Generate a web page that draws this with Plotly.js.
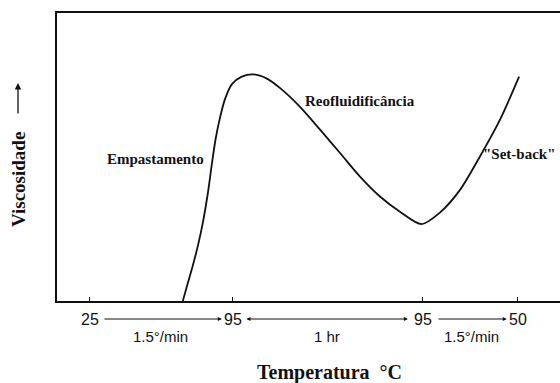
<!DOCTYPE html>
<html>
<head>
<meta charset="utf-8">
<script src="https://cdn.plot.ly/plotly-3.0.1.min.js"></script>
<style>html,body{margin:0;padding:0;background:#fff;}#chart{width:560px;height:383px;}</style>
</head>
<body>
<div id="chart"></div>
<script>
// time axis (min) of the RVA-type profile, viscosity in arbitrary units
const timeMin = [29.3, 30.9, 32.5, 34.1, 35.6, 37.2, 38.5, 39.7, 41.0, 42.6, 44.8, 47.9, 51.5, 55.7, 60.0, 66.2, 72.6, 78.9, 85.2, 91.5, 97.8, 104.6, 110.4, 116.7, 123.0, 129.3, 135.4];
const viscosity = [0, 6.3, 12.5, 19.4, 27.1, 37.5, 47.9, 56.6, 63.5, 70.1, 75.3, 77.9, 78.7, 77.3, 73.9, 67.5, 59.5, 51.4, 43.2, 36.3, 31.0, 26.7, 30.7, 38.5, 50.1, 62.8, 77.9];
const tickPos = [0, 45, 105, 135];
const tickLabels = ["25", "95", "95", "50"];
const rateLabels = ["1.5°/min", "1 hr", "1.5°/min"];
const rateLabelPos = [22.4, 74.8, 120.5];
const stageLabels = ["Empastamento", "Reofluidificância", "\"Set-back\""];
const stagePos = [[20.8, 49.3], [85.2, 69.4], [135.5, 51.0]];

const serif = "Liberation Serif";
const sans = "Liberation Sans";
const ph = 288; // plot height in px, for paper offsets

const ann = [];
tickPos.forEach((x, i) => ann.push({x: x, y: -18/ph, xref: 'x', yref: 'paper', text: tickLabels[i], showarrow: false, font: {family: sans, size: 16, color: '#111'}, xanchor: 'center', yanchor: 'middle'}));
// arrows between temperatures
const arrows = [[4.1, 41.6, false], [48.9, 100.3, true], [109.5, 131.5, false]];
arrows.forEach(a => ann.push({x: a[1], y: -18/ph, xref: 'x', yref: 'paper', ax: a[0], ay: -18/ph, axref: 'x', ayref: 'paper', text: '', showarrow: true, arrowhead: 2, startarrowhead: 2, arrowside: a[2] ? 'end+start' : 'end', arrowsize: 0.8, arrowwidth: 1, arrowcolor: '#111'}));
rateLabels.forEach((t, i) => ann.push({x: rateLabelPos[i], y: -35/ph, xref: 'x', yref: 'paper', text: t, showarrow: false, font: {family: sans, size: 15, color: '#111'}, xanchor: 'center', yanchor: 'middle'}));
stageLabels.forEach((t, i) => ann.push({x: stagePos[i][0], y: stagePos[i][1], xref: 'x', yref: 'y', text: '<b>' + t + '</b>', showarrow: false, font: {family: serif, size: 15, color: '#111'}, xanchor: 'center', yanchor: 'middle'}));
// axis titles
ann.push({x: 75.5, y: -71/ph, xref: 'x', yref: 'paper', text: '<b>Temperatura  °C</b>', showarrow: false, font: {family: serif, size: 20, color: '#111'}, xanchor: 'center', yanchor: 'middle'});
ann.push({x: -39/503, y: 0.42, xref: 'paper', yref: 'paper', text: '<b>Viscosidade</b>', textangle: -90, showarrow: false, font: {family: serif, size: 19, color: '#111'}, xanchor: 'center', yanchor: 'middle'});
ann.push({x: -39/503, y: 0.757, xref: 'paper', yref: 'paper', ax: -39/503, ay: 0.646, axref: 'paper', ayref: 'paper', text: '', showarrow: true, arrowhead: 2, arrowsize: 1, arrowwidth: 1.3, arrowcolor: '#111'});

Plotly.newPlot('chart', [{
  x: timeMin, y: viscosity, mode: 'lines', type: 'scatter',
  line: {color: '#111', width: 1.8, shape: 'spline', smoothing: 0.8}, hoverinfo: 'skip'
}], {
  width: 560, height: 383,
  margin: {l: 57, r: 0, t: 13, b: 82},
  paper_bgcolor: '#fff', plot_bgcolor: '#fff',
  showlegend: false,
  xaxis: {range: [-10.4, 148.3], showgrid: false, zeroline: false, showline: true, mirror: true, linecolor: '#111', linewidth: 2,
          tickvals: tickPos, ticks: 'inside', ticklen: 4, tickwidth: 1, tickcolor: '#111', showticklabels: false},
  yaxis: {range: [0, 100], showgrid: false, zeroline: false, showline: true, mirror: false, linecolor: '#111', linewidth: 2,
          ticks: '', showticklabels: false},
  annotations: ann
}, {staticPlot: true});
</script>
</body>
</html>
